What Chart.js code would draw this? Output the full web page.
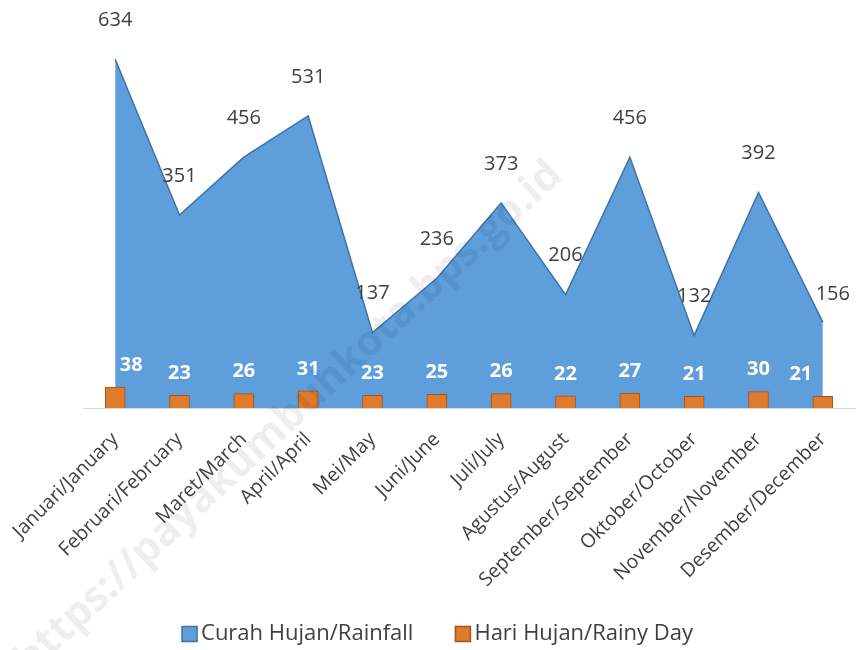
<!DOCTYPE html>
<html>
<head>
<meta charset="utf-8">
<script src="https://cdn.jsdelivr.net/npm/chart.js@4/dist/chart.umd.min.js"></script>
<style>
html,body{margin:0;padding:0;background:#fff;}
#wrap{width:857px;height:650px;position:relative;}
</style>
</head>
<body>
<div id="wrap"><canvas id="c" width="857" height="650"></canvas></div>
<script>
const months = ["Januari/January","Februari/February","Maret/March","April/April","Mei/May","Juni/June","Juli/July","Agustus/August","September/September","Oktober/October","November/November","Desember/December"];
const rainfall = [634,351,456,531,137,236,373,206,456,132,392,156];
const rainyDays = [38,23,26,31,23,25,26,22,27,21,30,21];
const seriesNames = ["Curah Hujan/Rainfall","Hari Hujan/Rainy Day"];
const watermarkText = "https://payakumbuhkota.bps.go.id";

const FONT = "'Open Sans', sans-serif";
const BLUE = '#5d9edb', BLUE_EDGE = '#3f73a8';
const ORANGE = '#e07a2c', ORANGE_EDGE = '#a5521c';

const labelPlugin = {
  id: 'valueLabels',
  afterDatasetsDraw(chart) {
    const ctx = chart.ctx;
    ctx.save();
    const n = rainfall.length;
    // area labels
    const m0 = chart.getDatasetMeta(0);
    ctx.font = "20px " + FONT;
    ctx.fillStyle = "#404040";
    ctx.textAlign = "center";
    ctx.textBaseline = "middle";
    m0.data.forEach((el, i) => {
      const last = i === n - 1;
      ctx.fillText(String(rainfall[i]), el.x + (last ? 10 : 0), el.y - (last ? 28 : 39));
    });
    // bar labels
    const m1 = chart.getDatasetMeta(1);
    ctx.font = "bold 20px " + FONT;
    ctx.fillStyle = "#ffffff";
    m1.data.forEach((el, i) => {
      const dx = i === 0 ? 16 : (i === n - 1 ? -22 : 0);
      ctx.fillText(String(rainyDays[i]), el.x + dx, el.y - 22);
    });
    // watermark
    ctx.translate(289, 418);
    ctx.rotate(-43 * Math.PI / 180);
    ctx.font = "bold 42px " + FONT;
    ctx.fillStyle = "rgba(0,0,0,0.065)";
    ctx.fillText(watermarkText, 0, 0);
    ctx.restore();
  },
  afterDraw(chart) {
    // legend
    const ctx = chart.ctx;
    ctx.save();
    ctx.font = "22px " + FONT;
    ctx.textBaseline = "middle";
    ctx.textAlign = "left";
    const cy = 634;
    const box = 15, gapBoxText = 4, gapItems = 42;
    const colors = [[BLUE, BLUE_EDGE], [ORANGE, ORANGE_EDGE]];
    const widths = seriesNames.map(t => box + gapBoxText + ctx.measureText(t).width);
    const total = widths[0] + widths[1] + gapItems;
    let x = (chart.width - total) / 2 + 9;
    seriesNames.forEach((t, i) => {
      ctx.fillStyle = colors[i][0];
      ctx.strokeStyle = colors[i][1];
      ctx.lineWidth = 1.5;
      ctx.fillRect(x, cy - box / 2, box, box);
      ctx.strokeRect(x, cy - box / 2, box, box);
      ctx.fillStyle = '#404040';
      ctx.fillText(t, x + box + gapBoxText, cy);
      x += widths[i] + gapItems;
    });
    ctx.restore();
  }
};

new Chart(document.getElementById('c'), {
  data: {
    labels: months,
    datasets: [
      {
        type: 'line',
        label: seriesNames[0],
        data: rainfall,
        fill: 'origin',
        backgroundColor: BLUE,
        borderColor: BLUE_EDGE,
        borderWidth: 1.5,
        pointRadius: 0,
        tension: 0,
        order: 2
      },
      {
        type: 'bar',
        label: seriesNames[1],
        data: rainyDays,
        backgroundColor: ORANGE,
        borderColor: ORANGE_EDGE,
        borderWidth: 1,
        barThickness: 20,
        order: 1
      }
    ]
  },
  options: {
    responsive: false,
    animation: false,
    layout: { padding: { top: 23, left: 83, right: 2, bottom: 32 } },
    scales: {
      x: {
        offset: true,
        grid: { display: false, drawTicks: false },
        border: { display: true, color: '#d9d9d9', width: 1 },
        ticks: { maxRotation: 45, minRotation: 45, color: '#404040', font: { size: 19.5, family: FONT }, padding: 20, autoSkip: false },
        afterFit(scale) { scale.height = 210; scale.paddingLeft = 0; scale.paddingRight = 0; }
      },
      y: {
        display: false,
        min: 0,
        max: 700
      }
    },
    plugins: {
      legend: { display: false },
      tooltip: { enabled: false }
    }
  },
  plugins: [labelPlugin]
});
</script>
</body>
</html>
